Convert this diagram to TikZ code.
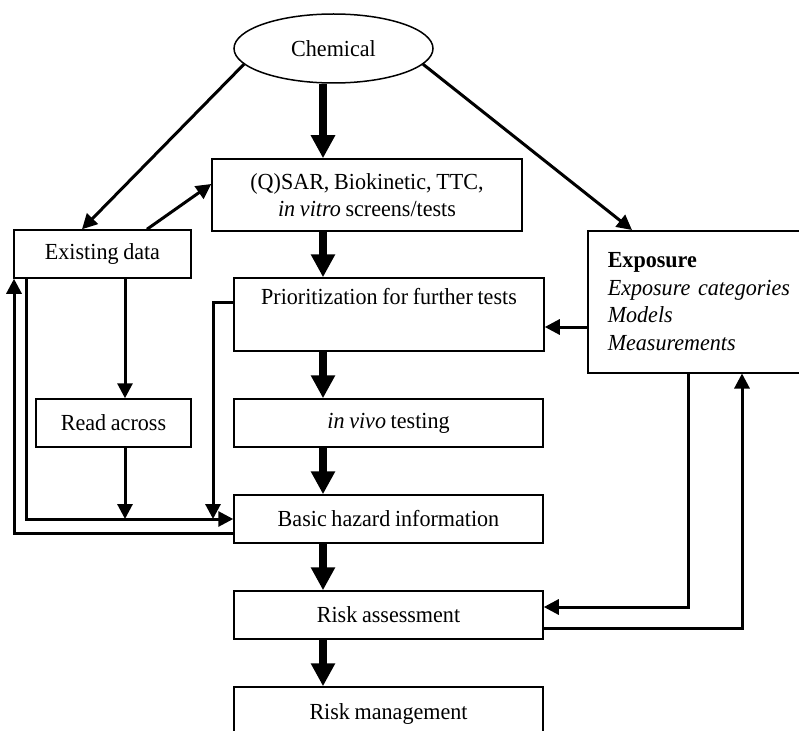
\documentclass[tikz,border=0pt]{standalone}
\usepackage{fontspec}
\setmainfont[FakeStretch=0.96,WordSpace=0.85]{Liberation Serif}
\usetikzlibrary{arrows.meta,shapes.geometric,calc}
\begin{document}
\begin{tikzpicture}[x=1pt,y=-1pt,
  font=\fontsize{23}{27.5}\selectfont,
  box/.style={draw,line width=1.5pt,rectangle,inner sep=0pt,align=center},
  thin/.style={line width=3pt,-{Triangle[length=15pt,width=15pt]}},
  thick/.style={line width=8pt,-{Triangle[length=23pt,width=23pt]}}]
\useasboundingbox (0,0) rectangle (799,730);
\clip (0,0) rectangle (799,730);
% rails
\coordinate (spine) at (323,0);
\coordinate (xra) at (125,0);
\coordinate (xin) at (26,0);
\coordinate (xout) at (14,0);
\coordinate (xpr) at (213,0);
\coordinate (xdn) at (688,0);
\coordinate (xup) at (742,0);
% nodes
\node[draw,line width=1.5pt,ellipse,minimum width=199pt,minimum height=69pt,inner sep=0pt] (chem) at (333.5,48.5) {Chemical};
\node[box,minimum width=310pt,minimum height=72pt] (qsar) at (367,195) {(Q)SAR, Biokinetic, TTC,\\\textit{in vitro} screens/tests};
\node[box,minimum width=177pt,minimum height=48pt] (ex) at (102.5,254) {Existing data};
\node[box,anchor=north west,text width=232pt,inner xsep=20pt,minimum height=142pt,align=left] (expo) at (587,230) {\textbf{Exposure}\\\textit{Exposure categories}\\\textit{Models}\\\textit{Measurements}};
\node[box,minimum width=310pt,minimum height=73pt] (prio) at (389,314.5) {Prioritization for further tests\\\strut};
\node[box,minimum width=155pt,minimum height=48pt] (rac) at (113.5,423) {Read across};
\node[box,minimum width=309pt,minimum height=48pt] (vivo) at (388.5,423) {\textit{in vivo} testing};
\node[box,minimum width=309pt,minimum height=48pt] (bhi) at (388.5,519) {Basic hazard information};
\node[box,minimum width=309pt,minimum height=48pt] (ra) at (388.5,615) {Risk assessment};
\node[box,minimum width=309pt,minimum height=54pt] (rm) at (388.5,714) {Risk management};
% thick spine arrows
\draw[thick] (chem.south -| spine) -- (qsar.north -| spine);
\draw[thick] (qsar.south -| spine) -- (prio.north -| spine);
\draw[thick] (prio.south -| spine) -- (vivo.north -| spine);
\draw[thick] (vivo.south -| spine) -- (bhi.north -| spine);
\draw[thick] (bhi.south -| spine) -- (ra.north -| spine);
\draw[thick] (ra.south -| spine) -- (rm.north -| spine);
% top diagonals
\draw[thin] (chem.190) -- ([xshift=-20.5pt]ex.north);
\draw[thin] (chem.-10) -- ([xshift=45pt]expo.north west);
\draw[thin] ([xshift=44.5pt]ex.north) -- ([yshift=11pt]qsar.west);
% exposure to prioritization
\draw[thin] ([yshift=-12.5pt]prio.east -| expo.west) -- ([yshift=-12.5pt]prio.east);
% left side
\draw[thin] (ex.south -| xra) -- (rac.north -| xra);
\draw[thin] (rac.south -| xra) -- (bhi.west -| xra);
\draw[thin] (ex.south -| xin) -- (bhi.west -| xin) -- (bhi.west);
\draw[thin] ([yshift=12.5pt]prio.west) -| (bhi.west -| xpr);
\draw[thin] ([yshift=-14pt]bhi.west) -| (ex.south -| xout);
% right side
\draw[thin] (expo.south -| xdn) |- ([yshift=8pt]ra.east);
\draw[thin] ([yshift=-13pt]ra.east) -| (expo.south -| xup);
\end{tikzpicture}
\end{document}
